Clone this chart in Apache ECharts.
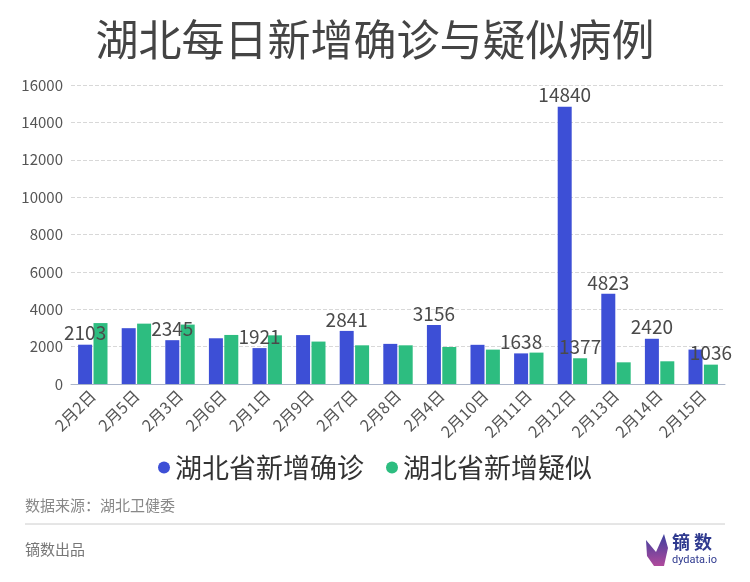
<!DOCTYPE html>
<html><head><meta charset="utf-8">
<script src="https://cdn.jsdelivr.net/npm/echarts@6/dist/echarts.min.js"></script>
<style>html,body{margin:0;padding:0;background:#fff}#c{width:750px;height:582px}</style>
</head><body><div id="c"></div>
<script>
var categories = ['2月2日','2月5日','2月3日','2月6日','2月1日','2月9日','2月7日','2月8日','2月4日','2月10日','2月11日','2月12日','2月13日','2月14日','2月15日'];
var confirmed = [2103, 2987, 2345, 2447, 1921, 2618, 2841, 2147, 3156, 2097, 1638, 14840, 4823, 2420, 1843];
var suspected = [3260, 3230, 3180, 2625, 2605, 2270, 2070, 2070, 1980, 1840, 1680, 1377, 1160, 1215, 1036];
var confirmedLabeled = [0, 2, 4, 6, 8, 10, 11, 12, 13];
var suspectedLabeled = [11, 14];
var seriesNames = ['湖北省新增确诊', '湖北省新增疑似'];
var yTicks = [0, 2000, 4000, 6000, 8000, 10000, 12000, 14000, 16000];

function withLabels(vals, shown) {
  return vals.map(function (v, i) {
    return { value: v, label: { show: shown.indexOf(i) >= 0 } };
  });
}
var chart = echarts.init(document.getElementById('c'));
var labelStyle = { position: 'top', fontSize: 19, color: '#4a4a4a', distance: 2, fontFamily: 'Noto Sans CJK SC' };
chart.setOption({
  animation: false,
  textStyle: { fontFamily: 'Noto Sans CJK SC' },
  title: {
    text: '湖北每日新增确诊与疑似病例', left: 'center', top: 13,
    textStyle: { fontSize: 43, fontWeight: 'normal', color: '#444', fontFamily: 'Noto Sans CJK SC' }
  },
  legend: {
    data: seriesNames, top: 449, left: 'center', icon: 'circle', itemWidth: 12, itemHeight: 12, itemGap: 22,
    textStyle: { fontSize: 27, color: '#333', fontFamily: 'Noto Sans CJK SC' }
  },
  grid: { left: 71, right: 25, top: 85, bottom: 198 },
  xAxis: {
    type: 'category', data: categories,
    axisLine: { lineStyle: { color: '#aab4c8' } },
    axisTick: { alignWithLabel: true, lineStyle: { color: '#aab4c8' } },
    axisLabel: { rotate: 45, fontSize: 16, color: '#555', interval: 0, margin: 9 }
  },
  yAxis: {
    type: 'value', min: yTicks[0], max: yTicks[yTicks.length - 1], interval: yTicks[1] - yTicks[0],
    axisLine: { show: false }, axisTick: { show: false },
    axisLabel: { fontSize: 15, color: '#555', margin: 8, formatter: function (v) { return String(v); } },
    splitLine: { lineStyle: { color: '#d8d8d8', type: 'dashed' } }
  },
  series: [
    { name: seriesNames[0], type: 'bar', barWidth: 14, barGap: '10%', itemStyle: { color: '#3d4fd6' },
      label: labelStyle, data: withLabels(confirmed, confirmedLabeled) },
    { name: seriesNames[1], type: 'bar', barWidth: 14, barGap: '10%', itemStyle: { color: '#2dbd80' },
      label: labelStyle, data: withLabels(suspected, suspectedLabeled) }
  ],
  graphic: [
    { type: 'text', left: 25, top: 498, style: { text: '数据来源：湖北卫健委', fontSize: 15, fill: '#888', fontFamily: 'Noto Sans CJK SC' } },
    { type: 'line', shape: { x1: 25, y1: 524, x2: 725, y2: 524 }, style: { stroke: '#ccc', lineWidth: 1 } },
    { type: 'text', left: 25, top: 542, style: { text: '镝数出品', fontSize: 15, fill: '#777', fontFamily: 'Noto Sans CJK SC' } },
    { type: 'polygon', shape: { points: [[646, 540], [656, 552], [664, 534], [668, 548], [664, 566], [654, 566], [647, 556]] },
      style: { fill: new echarts.graphic.LinearGradient(0, 0, 0, 1, [{ offset: 0, color: '#3a3f9e' }, { offset: 1, color: '#b04a9c' }]) } },
    { type: 'text', left: 672, top: 533, style: { text: '镝 数', fontSize: 18, fontWeight: 'bold', fill: '#2f3a8f', fontFamily: 'Noto Sans CJK SC' } },
    { type: 'text', left: 672, top: 555, style: { text: 'dydata.io', fontSize: 11, fill: '#2f3a8f', fontFamily: 'Roboto' } }
  ]
});
</script></body></html>
